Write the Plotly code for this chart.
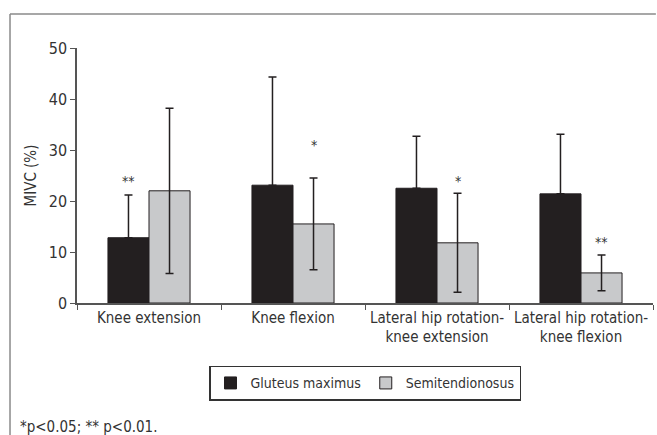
import plotly.graph_objects as go

categories = ["Knee extension", "Knee flexion",
              "Lateral hip rotation-<br>knee extension",
              "Lateral hip rotation-<br>knee flexion"]
gluteus = [12.8, 23.1, 22.5, 21.4]
gluteus_sd = [8.4, 21.2, 10.2, 11.7]
semi = [22.0, 15.5, 11.8, 5.9]
semi_sd = [16.2, 9.0, 9.7, 3.5]
# significance markers: (category index, series offset, y value, text)
marks = [(0, -1, 24.0, "**"), (1, 1, 31.0, "*"), (2, 1, 24.0, "*"), (3, 1, 12.0, "**")]

FONT = "DejaVu Sans Condensed, Liberation Sans Narrow, Roboto, sans-serif"
TXT = "#333333"

fig = go.Figure()
fig.add_trace(go.Bar(
    name="Gluteus maximus", x=categories, y=gluteus,
    marker=dict(color="#231f20", line=dict(color="#231f20", width=1)),
    error_y=dict(type="data", symmetric=False, array=gluteus_sd,
                 arrayminus=[0] * len(gluteus), color="#231f20",
                 thickness=1.5, width=4),
))
fig.add_trace(go.Bar(
    name="Semitendionosus", x=categories, y=semi,
    marker=dict(color="#c8c9cb", line=dict(color="#231f20", width=1)),
    error_y=dict(type="data", array=semi_sd, color="#231f20",
                 thickness=1.5, width=4),
))

bar_w = (1 - 0.43) / 2
for ci, side, yv, t in marks:
    fig.add_annotation(x=ci + side * bar_w / 2, y=yv, xref="x", yref="y",
                       text=t, showarrow=False,
                       font=dict(family=FONT, size=14, color=TXT))

fig.add_annotation(x=0, y=0, xref="paper", yref="paper",
                   xshift=-59, yshift=-124, xanchor="left", yanchor="middle",
                   text="*p<0.05; ** p<0.01.", showarrow=False,
                   font=dict(family=FONT, size=15, color=TXT))

# outer frame (top and left edges visible in the crop)
fig.add_shape(type="line", xref="paper", yref="paper",
              x0=-0.1163, y0=1.133, x1=1.005, y1=1.133,
              line=dict(color="#8a8a8a", width=1.5))
fig.add_shape(type="line", xref="paper", yref="paper",
              x0=-0.1163, y0=1.133, x1=-0.1163, y1=-0.52,
              line=dict(color="#8a8a8a", width=1.5))

fig.update_layout(
    width=657, height=435,
    margin=dict(l=77, r=4, t=48, b=132),
    plot_bgcolor="white", paper_bgcolor="white",
    barmode="group", bargap=0.43, bargroupgap=0,
    font=dict(family=FONT, size=15, color=TXT),
    showlegend=True,
    legend=dict(orientation="h", x=0.5, xanchor="center", y=-0.315, yanchor="middle",
                bordercolor="#333333", borderwidth=1.5,
                font=dict(family=FONT, size=14, color=TXT),
                itemwidth=30, tracegroupgap=0),
)
fig.update_xaxes(type="category", tickson="boundaries", ticks="outside", ticklen=5,
                 tickcolor="#555555", showline=True, linecolor="#555555", linewidth=1.5,
                 showgrid=False, tickangle=0, automargin=False,
                 tickfont=dict(family=FONT, size=15, color=TXT))
fig.update_yaxes(range=[0, 50], dtick=10, ticks="outside", ticklen=5,
                 tickcolor="#555555", showline=True, linecolor="#555555", linewidth=1.5,
                 showgrid=False, zeroline=False, automargin=False,
                 title=dict(text="MIVC (%)", font=dict(family=FONT, size=15, color=TXT), standoff=8),
                 tickfont=dict(family=FONT, size=16, color=TXT))

fig.write_html("out.html", config={"displayModeBar": False},
               post_script="document.body.style.margin='0';document.body.style.overflow='hidden';")
